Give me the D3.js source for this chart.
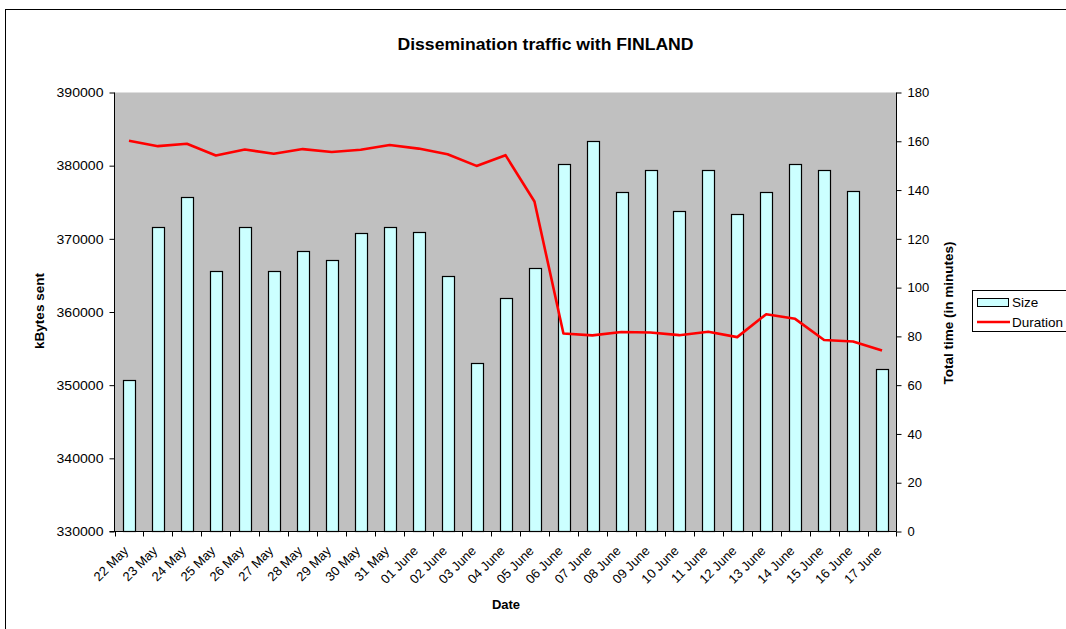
<!DOCTYPE html>
<html><head><meta charset="utf-8">
<script src="https://cdn.jsdelivr.net/npm/d3@7"></script>
<style>
html,body{margin:0;padding:0;background:#fff;}
text{font-family:Arial,"Liberation Sans",sans-serif;}
</style></head>
<body>
<svg id="c" width="1066" height="629"></svg>
<script>
const categories = ["22 May","23 May","24 May","25 May","26 May","27 May","28 May","29 May","30 May","31 May","01 June","02 June","03 June","04 June","05 June","06 June","07 June","08 June","09 June","10 June","11 June","12 June","13 June","14 June","15 June","16 June","17 June"];
const sizeValues = [350700,371650,375700,365650,371650,365600,368300,367050,370830,371550,370900,364960,353000,361960,366000,380180,383370,376360,379370,373870,379370,373370,376360,380180,379370,376600,352150];
const durationValues = [160.2,158.0,159.0,154.2,156.6,154.9,156.8,155.6,156.5,158.5,157.0,154.7,149.9,154.3,135.3,81.2,80.4,81.8,81.6,80.5,81.9,79.7,89.1,87.2,78.5,77.9,74.2];
const leftTicks = [330000,340000,350000,360000,370000,380000,390000];
const rightTicks = [0,20,40,60,80,100,120,140,160,180];

const svg = d3.select("#c");
const L = 114.5, R = 896.5, T = 92.5, B = 531.5;

// outer border
svg.append("rect").attr("x",5.5).attr("y",9.5).attr("width",1080).attr("height",640)
  .attr("fill","none").attr("stroke","#000").attr("stroke-width",1);

const x = d3.scaleBand().domain(categories).range([L,R]).padding(0);
const yL = d3.scaleLinear().domain([330000,390000]).range([B,T]);
const yR = d3.scaleLinear().domain([0,180]).range([B,T]);

svg.append("rect").attr("x",L).attr("y",T).attr("width",R-L).attr("height",B-T).attr("fill","#c0c0c0");

const bw = x.bandwidth()/2.5;
svg.append("g").selectAll("rect").data(categories).join("rect")
  .attr("x",(d)=>Math.round(x(d)+x.bandwidth()/2-bw/2)+0.5)
  .attr("y",(d,i)=>Math.round(yL(sizeValues[i]))+0.5)
  .attr("width",Math.round(bw))
  .attr("height",(d,i)=>B-Math.round(yL(sizeValues[i]))-0.5)
  .attr("fill","#ccffff").attr("stroke","#000").attr("stroke-width",1.2);

const line = d3.line().x((d,i)=>x(categories[i])+x.bandwidth()/2).y(d=>yR(d));
svg.append("path").datum(durationValues).attr("d",line)
  .attr("fill","none").attr("stroke","#ff0000").attr("stroke-width",2.6).attr("stroke-linejoin","round");

// axes
const ax = svg.append("g").attr("transform",`translate(${L},0)`)
  .call(d3.axisLeft(yL).tickValues(leftTicks).tickSize(5).tickPadding(6).tickFormat(d3.format("d")));
const ax2 = svg.append("g").attr("transform",`translate(${R},0)`)
  .call(d3.axisRight(yR).tickValues(rightTicks).tickSize(5).tickPadding(6));
[ax,ax2].forEach(g=>{
  g.select(".domain").attr("stroke","#000").attr("d",`M0,${T}V${B}`);
  g.selectAll(".tick line").attr("stroke","#000");
  g.selectAll("text").attr("font-size",13).attr("fill","#000").attr("font-family","Arial, Liberation Sans, sans-serif");
});
ax.selectAll("text").attr("textLength",47).attr("lengthAdjust","spacingAndGlyphs");

// x axis
svg.append("line").attr("x1",L-5).attr("x2",R).attr("y1",B).attr("y2",B).attr("stroke","#000");
const bounds = categories.map(d=>x(d)).concat([x(categories[categories.length-1])+x.bandwidth()]);
svg.append("g").selectAll("line").data(bounds).join("line")
  .attr("x1",d=>Math.round(d)+0.5).attr("x2",d=>Math.round(d)+0.5)
  .attr("y1",B).attr("y2",B+5).attr("stroke","#000");
svg.append("g").selectAll("text").data(categories).join("text")
  .attr("transform",d=>`translate(${x(d)+x.bandwidth()/2-3},${B+17}) rotate(-45)`)
  .attr("text-anchor","end").attr("dy","0.35em").attr("font-size",13).text(d=>d);

// titles
svg.append("text").attr("x",(L+R)/2+40).attr("y",50).attr("text-anchor","middle")
  .attr("font-weight","bold").attr("font-size",16).attr("textLength",296).attr("lengthAdjust","spacingAndGlyphs")
  .text("Dissemination traffic with FINLAND");
svg.append("text").attr("x",506).attr("y",609).attr("text-anchor","middle")
  .attr("font-weight","bold").attr("font-size",13).text("Date");
svg.append("text").attr("transform",`translate(44,311) rotate(-90)`).attr("text-anchor","middle")
  .attr("font-weight","bold").attr("font-size",13.5).text("kBytes sent");
svg.append("text").attr("transform",`translate(953,313) rotate(-90)`).attr("text-anchor","middle")
  .attr("font-weight","bold").attr("font-size",13.5).text("Total time (in minutes)");

// legend
const lg = svg.append("g");
lg.append("rect").attr("x",972.5).attr("y",290.5).attr("width",120).attr("height",41)
  .attr("fill","#fff").attr("stroke","#000");
lg.append("rect").attr("x",977.5).attr("y",298.5).attr("width",31).attr("height",8)
  .attr("fill","#ccffff").attr("stroke","#000");
lg.append("text").attr("x",1012).attr("y",307).attr("font-size",13.5).text("Size");
lg.append("line").attr("x1",977).attr("x2",1010).attr("y1",322).attr("y2",322)
  .attr("stroke","#ff0000").attr("stroke-width",2.6);
lg.append("text").attr("x",1012).attr("y",327).attr("font-size",13.5).text("Duration");
</script>
</body></html>
